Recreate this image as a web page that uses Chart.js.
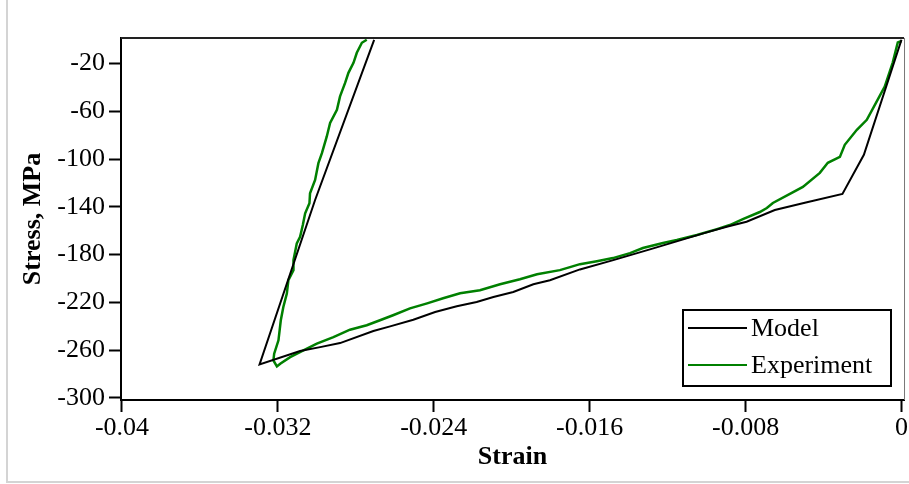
<!DOCTYPE html>
<html><head><meta charset="utf-8">
<script src="https://cdn.jsdelivr.net/npm/chart.js@4"></script>
<style>html,body{margin:0;padding:0;background:#fff;}#wrap{position:relative;width:909px;height:484px;}</style>
</head><body><div id="wrap"><canvas id="c" width="909" height="484"></canvas></div>
<script>
const seriesNames = ['Model', 'Experiment'];
const seriesColors = ['#000000', '#008000'];

const modelStrain = [0.0, -0.00193, -0.00303, -0.00496, -0.00650, -0.00795, -0.00897, -0.01017, -0.01188, -0.01291,
  -0.01479, -0.01650, -0.01804, -0.01889, -0.01992, -0.02094, -0.02180, -0.02282, -0.02393, -0.02505,
  -0.02624, -0.02710, -0.02881, -0.02983, -0.03086, -0.03294, -0.03009, -0.02706];
const modelStress = [0, -96.4, -129.2, -136.5, -142.6, -152.4, -156.6, -162.2, -170.6, -175.6,
  -184.6, -192.4, -201.4, -204.8, -211.3, -215.5, -219.7, -223.3, -228.1, -234.5,
  -240.1, -244.0, -254.1, -257.5, -260.8, -272.0, -134.2, 0];

const expStrain = [0.0, -0.00019, -0.00045, -0.00086, -0.00122, -0.00178, -0.00229, -0.00291, -0.00316, -0.00378,
  -0.00419, -0.00506, -0.00563, -0.00660, -0.00691, -0.00727, -0.00814, -0.00881, -0.00947, -0.01050,
  -0.01153, -0.01224, -0.01327, -0.01393, -0.01481, -0.01563, -0.01650, -0.01701, -0.01753, -0.01870,
  -0.01958, -0.02060, -0.02163, -0.02265, -0.02352, -0.02434, -0.02522, -0.02609, -0.02676, -0.02744,
  -0.02830, -0.02915, -0.03000, -0.03069, -0.03137, -0.03188, -0.03205, -0.03223, -0.03219, -0.03197,
  -0.03185, -0.03172, -0.03154, -0.03146, -0.03120, -0.03120, -0.03103, -0.03086, -0.03072, -0.03060,
  -0.03038, -0.03035, -0.03009, -0.02992, -0.02974, -0.02949, -0.02932, -0.02897, -0.02881, -0.02855,
  -0.02838, -0.02812, -0.02795, -0.02769, -0.02744];
const expStress = [-1, -2.3, -19.1, -39.2, -50.2, -67.0, -75.4, -88.0, -98.1, -103.1,
  -111.5, -123.3, -128.3, -136.7, -140.9, -144.3, -150.2, -155.2, -158.6, -163.6,
  -167.8, -170.3, -174.5, -178.7, -182.9, -185.5, -188.0, -190.5, -193.0, -196.4,
  -200.6, -204.8, -209.8, -212.4, -216.6, -220.8, -225.0, -230.8, -235.0, -239.2,
  -242.9, -249.1, -254.6, -260.3, -265.9, -271.4, -273.7, -268.7, -263.0, -251.8,
  -235.0, -223.9, -212.6, -201.4, -193.0, -184.6, -170.6, -165.0, -155.2, -145.4,
  -137.0, -128.6, -117.4, -103.4, -95.0, -81.0, -69.7, -58.6, -47.4, -36.1,
  -27.7, -19.3, -10.9, -2.5, 0];

const xTickValues = [-0.04, -0.032, -0.024, -0.016, -0.008, 0];
const yTickValues = [-300, -260, -220, -180, -140, -100, -60, -20];
const xTitle = 'Strain';
const yTitle = 'Stress, MPa';

function pts(xs, ys) { return xs.map((x, i) => ({ x: x, y: ys[i] })); }

const framePlugin = {
  id: 'frame',
  beforeDraw(chart) {
    const ctx = chart.ctx;
    ctx.save();
    ctx.strokeStyle = '#d4d4d4';
    ctx.lineWidth = 2;
    ctx.beginPath();
    ctx.moveTo(7, 0); ctx.lineTo(7, 482); ctx.lineTo(909, 482);
    ctx.stroke();
    ctx.restore();
  },
  afterDatasetsDraw(chart) {
    const ctx = chart.ctx, a = chart.chartArea;
    ctx.save();
    ctx.strokeStyle = '#222';
    ctx.lineWidth = 2;
    ctx.beginPath(); ctx.moveTo(a.left, a.top); ctx.lineTo(a.right, a.top); ctx.stroke();
    ctx.strokeStyle = '#777';
    ctx.lineWidth = 1;
    ctx.beginPath(); ctx.moveTo(a.right + 0.5, a.top); ctx.lineTo(a.right + 0.5, a.bottom); ctx.stroke();
    // legend
    const bx = 683, by = 310, bw = 208, bh = 76;
    ctx.fillStyle = '#fff';
    ctx.fillRect(bx, by, bw, bh);
    ctx.strokeStyle = '#000';
    ctx.lineWidth = 2;
    ctx.strokeRect(bx, by, bw, bh);
    ctx.font = '26px "Liberation Serif", serif';
    ctx.textBaseline = 'middle';
    ctx.textAlign = 'left';
    chart.data.datasets.forEach((ds, i) => {
      const y = by + 18 + i * 37;
      ctx.strokeStyle = ds.borderColor;
      ctx.lineWidth = 2;
      ctx.beginPath(); ctx.moveTo(bx + 5, y); ctx.lineTo(bx + 64, y); ctx.stroke();
      ctx.fillStyle = '#000';
      ctx.fillText(ds.label, bx + 68, y + 1);
    });
    ctx.restore();
  }
};

const tickFont = { family: '"Liberation Serif", serif', size: 26 };
const titleFont = { family: '"Liberation Serif", serif', size: 26, weight: 'bold' };

new Chart(document.getElementById('c'), {
  type: 'scatter',
  data: {
    datasets: [
      { label: seriesNames[0], data: pts(modelStrain, modelStress), showLine: true, borderColor: seriesColors[0], backgroundColor: seriesColors[0], borderWidth: 2, pointRadius: 0, tension: 0 },
      { label: seriesNames[1], data: pts(expStrain, expStress), showLine: true, borderColor: seriesColors[1], backgroundColor: seriesColors[1], borderWidth: 2.5, pointRadius: 0, tension: 0 }
    ]
  },
  options: {
    responsive: false,
    devicePixelRatio: 1,
    animation: false,
    layout: { padding: { left: 0, right: 4, top: 38, bottom: 0 } },
    plugins: { legend: { display: false }, tooltip: { enabled: false } },
    scales: {
      x: {
        type: 'linear', min: -0.04005, max: 0.00013,
        afterFit(s) { s.height = 84; },
        afterBuildTicks(s) { s.ticks = xTickValues.map(v => ({ value: v })); },
        border: { display: true, color: '#000', width: 2 },
        grid: { drawOnChartArea: false, drawTicks: true, tickLength: 12, tickWidth: 2, tickColor: '#000' },
        ticks: { color: '#000', font: tickFont, padding: 1, maxRotation: 0, autoSkip: false,
          callback: v => String(parseFloat(Number(v).toFixed(4))) },
        title: { display: true, text: xTitle, color: '#000', font: titleFont, padding: { top: 0, bottom: 11 } }
      },
      y: {
        type: 'linear', min: -301.8, max: 1.5,
        afterFit(s) { s.width = 121; },
        afterBuildTicks(s) { s.ticks = yTickValues.map(v => ({ value: v })); },
        border: { display: true, color: '#000', width: 2 },
        grid: { drawOnChartArea: false, drawTicks: true, tickLength: 12, tickWidth: 2, tickColor: '#000' },
        ticks: { color: '#000', font: tickFont, padding: 4, autoSkip: false,
          callback: v => String(v) },
        title: { display: true, text: yTitle, color: '#000', font: titleFont, padding: { top: 18, bottom: 0 } }
      }
    }
  },
  plugins: [framePlugin]
});
</script></body></html>
